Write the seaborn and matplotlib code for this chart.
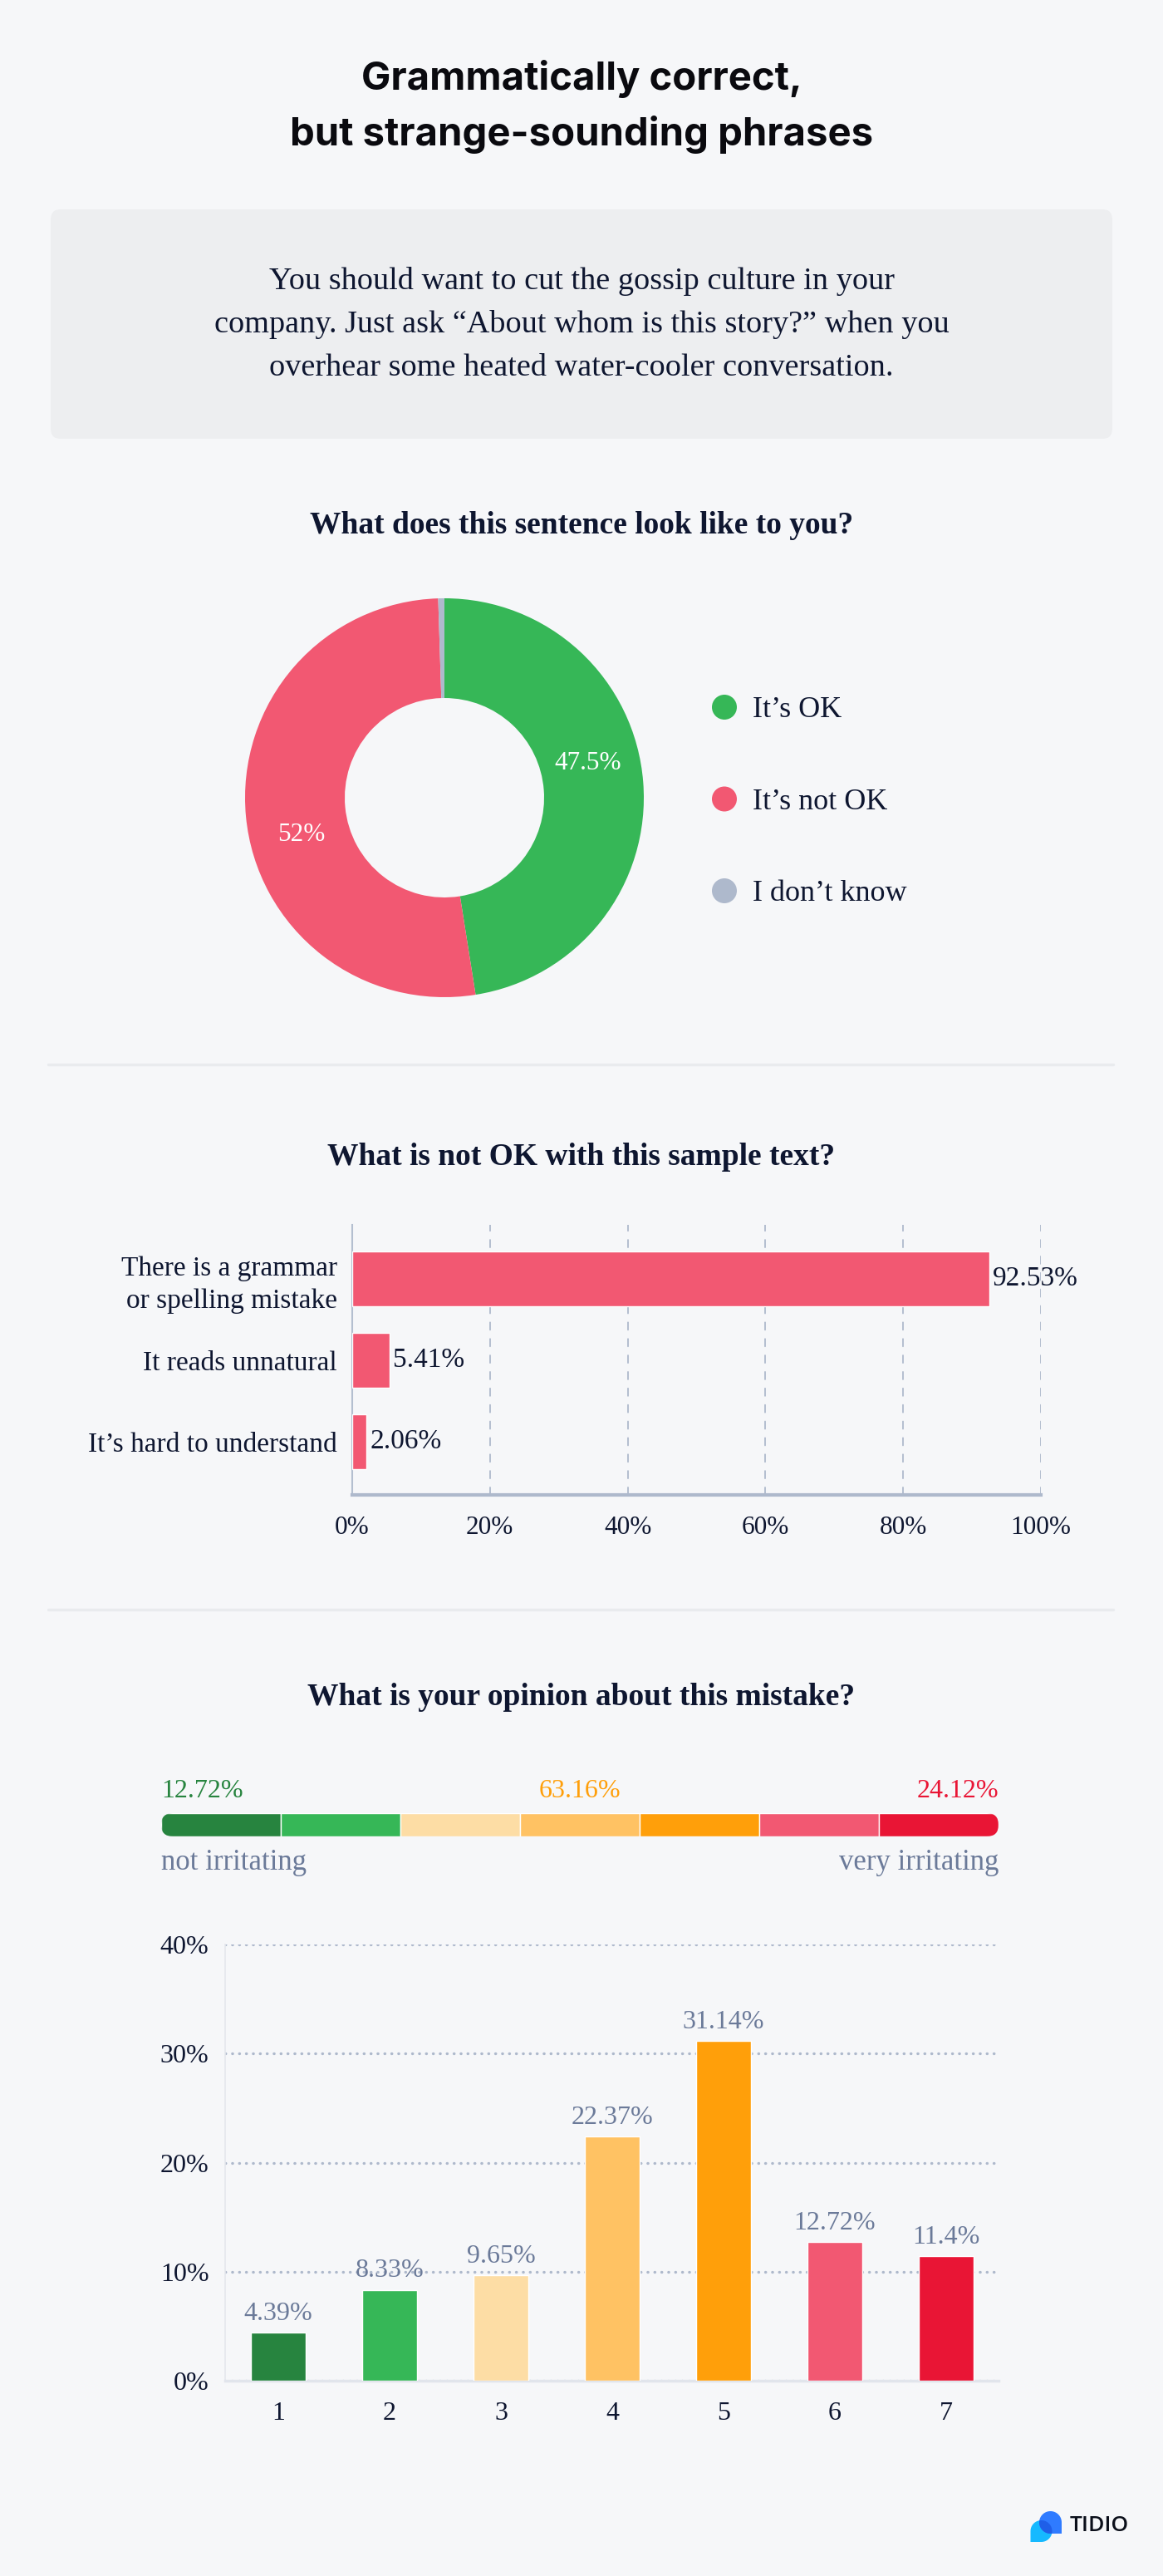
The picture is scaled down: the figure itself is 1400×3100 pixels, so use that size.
import matplotlib
matplotlib.use("Agg")
import matplotlib.pyplot as plt
import matplotlib.patches as mpatches
import seaborn as sns
import numpy as np
import pandas as pd

# ── Data ─────────────────────────────────────────────────────────────────────
TITLE = "Grammatically correct,\nbut strange-sounding phrases"
SAMPLE_TEXT = ("You should want to cut the gossip culture in your\n"
               "company. Just ask \u201cAbout whom is this story?\u201d when you\n"
               "overhear some heated water-cooler conversation.")

Q1 = "What does this sentence look like to you?"
pie_labels = ["It\u2019s OK", "It\u2019s not OK", "I don\u2019t know"]
pie_values = [47.5, 52.0, 0.5]

Q2 = "What is not OK with this sample text?"
reason_labels = ["There is a grammar\nor spelling mistake", "It reads unnatural",
                 "It\u2019s hard to understand"]
reason_values = [92.53, 5.41, 2.06]
reason_ticks = [0, 20, 40, 60, 80, 100]

Q3 = "What is your opinion about this mistake?"
group_values = [12.72, 63.16, 24.12]
scale_ends = ["not irritating", "very irritating"]
score_labels = ["1", "2", "3", "4", "5", "6", "7"]
score_values = [4.39, 8.33, 9.65, 22.37, 31.14, 12.72, 11.4]
score_ticks = [0, 10, 20, 30, 40]

# ── Style ────────────────────────────────────────────────────────────────────
W, H = 1400, 3100
BG = "#F6F7F9"
BOX = "#EDEEF0"
INK = "#0E1630"
SLATE = "#6B7A99"
GRID = "#AEB9CC"
GREEN = "#36B757"
RED = "#F25872"
GREY = "#AEB9CC"
pie_colors = [GREEN, RED, GREY]
score_colors = ["#27843F", "#36B757", "#FDDDA5", "#FFC263", "#FF9F0A", "#F25872", "#E91535"]
group_colors = ["#27843F", "#FF9F0A", "#E91535"]

SERIF = "Liberation Serif"
sns.set_theme(style="white")
plt.rcParams.update({
    "font.family": SERIF,
    "figure.facecolor": BG,
    "axes.facecolor": "none",
    "lines.dash_capstyle": "round",
})

fig = plt.figure(figsize=(14, 31), dpi=100)
bg = fig.add_axes([0, 0, 1, 1])
bg.set_xlim(0, W)
bg.set_ylim(H, 0)
bg.axis("off")


def px_axes(x, y, w, h):
    """Axes placed with pixel coordinates (top-left origin)."""
    return fig.add_axes([x / W, 1 - (y + h) / H, w / W, h / H])


# ── Header ───────────────────────────────────────────────────────────────────
for i, line in enumerate(TITLE.split("\n")):
    bg.text(700, 108 + 67 * i, line, ha="center", va="baseline",
            fontsize=34, fontweight="bold", family="Inter", color="#0A0A0F")

bg.add_patch(mpatches.FancyBboxPatch((61, 252), 1278, 276,
             boxstyle="round,pad=0,rounding_size=12", fc=BOX, ec="none"))
for i, line in enumerate(SAMPLE_TEXT.split("\n")):
    bg.text(700, 348 + 52 * i, line, ha="center", va="baseline",
            fontsize=27.5, color=INK)

# separators
for y in (1281, 1937):
    bg.plot([58, 1340], [y, y], color="#E9EBEE", lw=2.4)

# section titles
for txt, y in ((Q1, 633), (Q2, 1392), (Q3, 2042)):
    bg.text(700, y, txt, ha="center", va="center", fontsize=27,
            fontweight="bold", color=INK)

# ── Donut ────────────────────────────────────────────────────────────────────
ax1 = px_axes(255, 680, 560, 560)
wedges, _, autot = ax1.pie(
    pie_values, colors=pie_colors, startangle=90, counterclock=False,
    wedgeprops=dict(width=0.5, edgecolor="none"),
    autopct=lambda p: f"{round(p, 1):g}%" if p > 5 else "",
    pctdistance=0.74, textprops=dict(color="white", fontsize=22.5))
# the original tool sets its labels a little counter-clockwise of the wedge middle
for w, t in zip(wedges, autot):
    ang = np.radians((w.theta1 + w.theta2) / 2 + 9)
    t.set_position((0.74 * np.cos(ang), 0.74 * np.sin(ang)))
lim = 280 / 240
ax1.set_xlim(-lim, lim)
ax1.set_ylim(-lim, lim)
ax1.set_aspect("equal")

for i, (lab, col) in enumerate(zip(pie_labels, pie_colors)):
    yc = 851 + 110.5 * i
    bg.add_patch(mpatches.Circle((872, yc), 15, fc=col, ec="none"))
    bg.text(906, yc + 12, lab, ha="left", va="baseline", fontsize=26, color=INK)

# ── Horizontal bars ──────────────────────────────────────────────────────────
ax2 = px_axes(424, 1474, 829, 325)
df2 = pd.DataFrame({"reason": reason_labels, "share": reason_values})
sns.barplot(data=df2, x="share", y="reason", orient="h", color=RED,
            saturation=1, width=0.673, ax=ax2, zorder=3)
ax2.set_xlim(0, 100)
ax2.set_ylim(2.653, -0.663)
ax2.set_xticks(reason_ticks)
ax2.set_xticklabels([f"{t}%" for t in reason_ticks])
ax2.grid(axis="x", color=GRID, lw=1.3, ls=(0, (5, 6)), zorder=0)
ax2.set_axisbelow(True)
ax2.tick_params(axis="x", length=0, pad=18, labelsize=22.5, labelcolor=INK)
ax2.tick_params(axis="y", length=0, pad=13, labelsize=24, labelcolor=INK)
for lab in ax2.get_yticklabels():
    lab.set_linespacing(1.35)
ax2.set_xlabel("")
ax2.set_ylabel("")
for s in ("top", "right"):
    ax2.spines[s].set_visible(False)
ax2.spines["left"].set_color("#B4BFD0")
ax2.spines["left"].set_linewidth(1.5)
ax2.spines["bottom"].set_color(GRID)
ax2.spines["bottom"].set_linewidth(3)
for cont in ax2.containers:
    ax2.bar_label(cont, labels=[f"{v:g}%" for v in reason_values], padding=3,
                  fontsize=24, color=INK)

# ── Irritation scale strip ───────────────────────────────────────────────────
SX, SY, SW, SH = 194, 2182, 1008, 28
ax3 = px_axes(SX, SY, SW, SH)
clip = mpatches.FancyBboxPatch((SX, SY), SW, SH, boxstyle="round,pad=0,rounding_size=14",
                               transform=bg.transData, fc="none", ec="none")
bg.add_patch(clip)
segs = ax3.barh([0] * len(score_labels), [1] * len(score_labels),
                left=np.arange(len(score_labels)), color=score_colors, height=1.0)
for b in segs:
    b.set_clip_path(clip)
ax3.set_xlim(0, len(score_labels))
ax3.set_ylim(-0.5, 0.5)
ax3.axis("off")

grp_x = [(SX, "left"), (SX + SW / 2, "center"), (SX + SW, "right")]
for v, col, (x, ha) in zip(group_values, group_colors, grp_x):
    bg.text(x, 2163, f"{v}%", ha=ha, va="baseline", fontsize=23, color=col)
bg.text(SX, 2250, scale_ends[0], ha="left", va="baseline", fontsize=25, color=SLATE)
bg.text(SX + SW, 2250, scale_ends[1], ha="right", va="baseline", fontsize=25, color=SLATE)

# ── Score distribution ───────────────────────────────────────────────────────
ax4 = px_axes(271, 2340, 931, 525)
df4 = pd.DataFrame({"score": score_labels, "share": score_values})
sns.barplot(data=df4, x="score", y="share", hue="score", palette=score_colors,
            saturation=1, width=0.49, legend=False, ax=ax4, zorder=3)
ax4.set_xlim(-0.478, 6.47)
ax4.set_ylim(0, 40)
ax4.set_yticks(score_ticks)
ax4.set_yticklabels([f"{t}%" for t in score_ticks])
ax4.grid(axis="y", color=GRID, lw=2.4, ls=(0, (0.1, 2.4)), zorder=0)
ax4.set_axisbelow(True)
ax4.tick_params(axis="x", length=0, pad=18, labelsize=23, labelcolor=INK)
ax4.tick_params(axis="y", length=0, pad=14, labelsize=23, labelcolor=INK)
ax4.set_xlabel("")
ax4.set_ylabel("")
for s in ("top", "right"):
    ax4.spines[s].set_visible(False)
ax4.spines["left"].set_color("#E4E7EC")
ax4.spines["left"].set_linewidth(1.2)
ax4.spines["bottom"].set_color("#E1E5EC")
ax4.spines["bottom"].set_linewidth(2.5)
for cont, v in zip(ax4.containers, score_values):
    ax4.bar_label(cont, labels=[f"{v:g}%"], padding=6, fontsize=23, color=SLATE)

# ── Logo ─────────────────────────────────────────────────────────────────────
def drop(cx, cy, r, corner):
    if corner == "br":
        t = np.radians(np.linspace(0, 270, 60))
        pts = list(zip(cx + r * np.cos(t), cy - r * np.sin(t))) + [(cx + r, cy + r)]
    else:
        t = np.radians(np.linspace(270, 540, 60))
        pts = list(zip(cx + r * np.cos(t), cy - r * np.sin(t))) + [(cx - r, cy + r)]
    return np.array(pts)

pa = drop(1253.5, 3046, 13, "bl")
pb = drop(1264.5, 3035.5, 13.5, "br")
polyA = mpatches.Polygon(pa, closed=True, fc="#16B9FF", ec="none")
bg.add_patch(polyA)
bg.add_patch(mpatches.Polygon(pb, closed=True, fc="#2F7BFF", ec="none"))
ov = mpatches.Polygon(pb, closed=True, fc="#1F5FE8", ec="none")
bg.add_patch(ov)
ov.set_clip_path(polyA)
bg.text(1288, 3040, "TIDIO", ha="left", va="center", fontsize=19,
        family="Open Sans", fontweight="semibold", color="#0B0F1A")

fig.savefig("out.png", dpi=100, facecolor=BG)
